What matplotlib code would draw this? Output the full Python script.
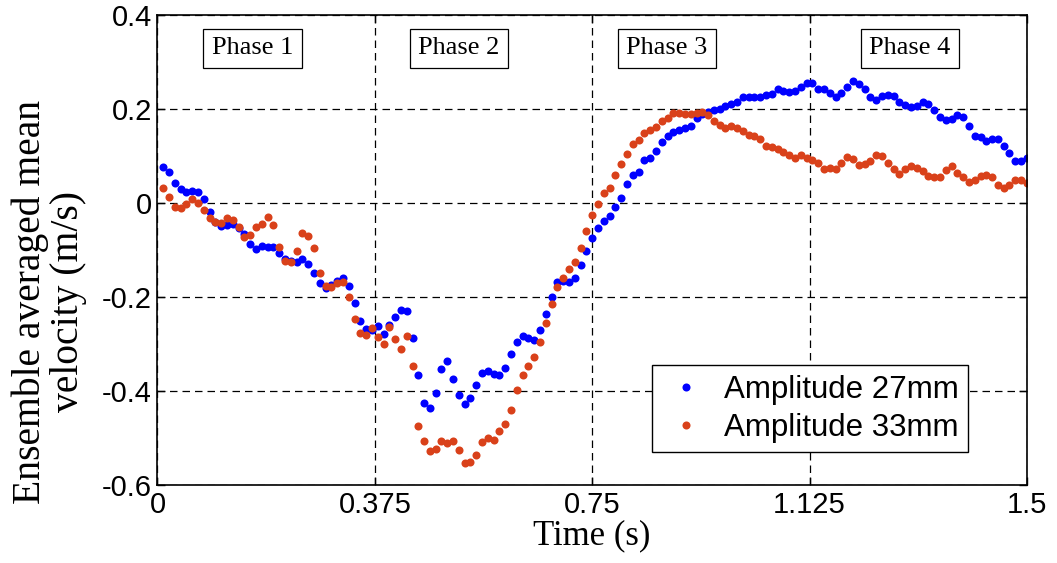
import numpy as np
import matplotlib
matplotlib.use("Agg")
from matplotlib import pyplot as plt

# sample times (s), 0.01 s steps
time_s = np.linspace(0.01, 1.50, 150)

# Amplitude 27mm (blue)
amp27 = [
    0.078, 0.067, 0.044, 0.030, 0.023, 0.026, 0.023, 0.008, -0.018, -0.039,
    -0.048, -0.046, -0.045, -0.052, -0.065, -0.087, -0.098, -0.090, -0.093, -0.094,
    -0.105, -0.118, -0.123, -0.126, -0.118, -0.129, -0.149, -0.170, -0.180, -0.174,
    -0.165, -0.160, -0.176, -0.212, -0.251, -0.268, -0.270, -0.262, -0.278, -0.260,
    -0.242, -0.228, -0.230, -0.287, -0.365, -0.424, -0.435, -0.404, -0.352, -0.336,
    -0.374, -0.408, -0.426, -0.414, -0.387, -0.361, -0.357, -0.363, -0.365, -0.350,
    -0.320, -0.296, -0.282, -0.286, -0.291, -0.269, -0.235, -0.199, -0.168, -0.165,
    -0.167, -0.158, -0.131, -0.102, -0.073, -0.052, -0.038, -0.028, -0.008, 0.012,
    0.040, 0.060, 0.067, 0.091, 0.097, 0.112, 0.131, 0.144, 0.151, 0.156,
    0.160, 0.165, 0.182, 0.189, 0.195, 0.198, 0.200, 0.206, 0.211, 0.216,
    0.225, 0.225, 0.225, 0.225, 0.231, 0.233, 0.242, 0.239, 0.236, 0.238,
    0.247, 0.255, 0.255, 0.244, 0.244, 0.234, 0.227, 0.235, 0.247, 0.260,
    0.254, 0.244, 0.225, 0.220, 0.228, 0.231, 0.229, 0.216, 0.209, 0.204,
    0.207, 0.215, 0.211, 0.198, 0.183, 0.177, 0.180, 0.187, 0.183, 0.165,
    0.144, 0.140, 0.132, 0.136, 0.136, 0.121, 0.107, 0.089, 0.089, 0.097,
]

# Amplitude 33mm (red)
amp33 = [
    0.033, 0.013, -0.007, -0.011, -0.001, 0.009, 0.001, -0.014, -0.032, -0.039,
    -0.043, -0.032, -0.036, -0.050, -0.072, -0.068, -0.050, -0.044, -0.030, -0.046,
    -0.093, -0.123, -0.125, -0.102, -0.064, -0.070, -0.096, -0.149, -0.176, -0.179,
    -0.169, -0.167, -0.199, -0.246, -0.275, -0.280, -0.266, -0.285, -0.300, -0.264,
    -0.289, -0.309, -0.282, -0.347, -0.473, -0.505, -0.528, -0.523, -0.505, -0.511,
    -0.505, -0.525, -0.552, -0.550, -0.536, -0.508, -0.499, -0.503, -0.484, -0.469,
    -0.440, -0.397, -0.365, -0.346, -0.327, -0.295, -0.255, -0.215, -0.178, -0.159,
    -0.140, -0.124, -0.096, -0.060, -0.025, -0.001, 0.021, 0.033, 0.061, 0.084,
    0.105, 0.126, 0.135, 0.149, 0.156, 0.162, 0.174, 0.182, 0.191, 0.191,
    0.190, 0.189, 0.192, 0.194, 0.188, 0.175, 0.167, 0.160, 0.164, 0.159,
    0.154, 0.145, 0.142, 0.137, 0.122, 0.120, 0.115, 0.109, 0.102, 0.097,
    0.102, 0.096, 0.092, 0.086, 0.073, 0.076, 0.073, 0.085, 0.098, 0.095,
    0.081, 0.084, 0.089, 0.102, 0.100, 0.085, 0.073, 0.063, 0.073, 0.080,
    0.075, 0.068, 0.057, 0.055, 0.055, 0.071, 0.080, 0.065, 0.055, 0.045,
    0.049, 0.058, 0.061, 0.055, 0.038, 0.033, 0.039, 0.049, 0.049, 0.044,
]

x_ticks = [0, 0.375, 0.75, 1.125, 1.5]
x_ticklabels = ["0", "0.375", "0.75", "1.125", "1.5"]
y_ticks = [-0.6, -0.4, -0.2, 0, 0.2, 0.4]
y_ticklabels = ["-0.6", "-0.4", "-0.2", "0", "0.2", "0.4"]

phase_names = ["Phase 1", "Phase 2", "Phase 3", "Phase 4"]
phase_x = [0.164, 0.52, 0.879, 1.298]

SANS = "Liberation Sans"
SERIF = "Liberation Serif"

fig = plt.figure(figsize=(10.57, 5.63), dpi=100)
ax = fig.add_axes([0.149, 0.138, 0.8225, 0.835])

ax.plot(time_s, amp27, "o", color="#0000ff", ms=5.8, mec="none", label="Amplitude 27mm")
ax.plot(time_s, amp33, "o", color="#d9411a", ms=5.8, mec="none", label="Amplitude 33mm")

ax.set_xlim(0, 1.5)
ax.set_ylim(-0.6, 0.4)
ax.set_xticks(x_ticks)
ax.set_xticklabels(x_ticklabels, family=SANS, fontsize=21)
ax.set_yticks(y_ticks)
ax.set_yticklabels(y_ticklabels, family=SANS, fontsize=21)
ax.tick_params(direction="in", length=6, width=1, top=True, right=True, pad=4)

ax.grid(True, color="black", linestyle=(0, (6, 4)), linewidth=0.9)
for s in ax.spines.values():
    s.set_linewidth(1.2)

ax.set_xlabel("Time (s)", family=SERIF, fontsize=25, labelpad=0)
ax.set_ylabel("Ensemble averaged mean\nvelocity (m/s)", family=SERIF, fontsize=28.5,
              linespacing=1.05)
ax.yaxis.set_label_coords(-0.081, 0.39)

for name, px in zip(phase_names, phase_x):
    ax.text(px, 0.330, name, family=SERIF, fontsize=19, ha="center", va="center",
            bbox=dict(boxstyle="square,pad=0.32", fc="white", ec="black", lw=0.9))

leg = ax.legend(loc="lower right", bbox_to_anchor=(0.932, 0.071), borderaxespad=0,
                fancybox=False, edgecolor="black", framealpha=1,
                prop={"family": SANS, "size": 22.5},
                handletextpad=0.4, borderpad=0.3, labelspacing=0.25, handlelength=1.6,
                markerscale=1.0)
leg.get_frame().set_linewidth(1.0)

fig.savefig("out.png", dpi=100)
